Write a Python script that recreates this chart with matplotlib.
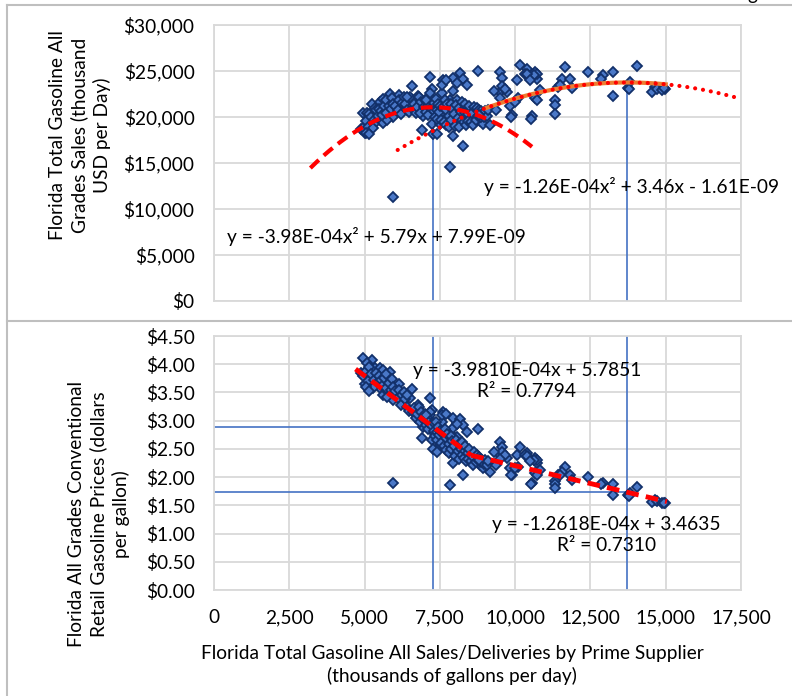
import numpy as np
import matplotlib.pyplot as plt
from matplotlib.lines import Line2D

plt.rcParams['font.family'] = ['Lato', 'DejaVu Sans']

# monthly observations: sales (thousand gal/day) and price ($/gal)
sales = [4960, 5250, 5080, 5350, 5510, 5620, 5840, 5010, 5180, 5410, 6140, 6570, 5510, 5610,
         5780, 6070, 6510, 6780, 5940, 5740, 6280, 4870, 4950, 5050, 5120, 5150, 5220, 5300,
         5320, 5380, 5450, 5480, 5550, 5580, 5650, 5700, 5720, 5800, 5880, 5900, 5960, 6020,
         6100, 6150, 6200, 6240, 6320, 6350, 6400, 6420, 6460, 5280, 5060, 5160,
         7170, 7240, 7170, 6910, 6610, 7610, 7570, 6940, 7270, 7240, 7570, 7840, 7950, 8070,
         7170, 7570, 7950, 8170, 8770, 8270, 8400, 8070, 7770, 7270, 7500, 7950, 7950, 8270,
         7840, 8500, 8670, 8830, 8930, 9160,
         6650, 6700, 6750, 6820, 6850, 6880, 6980, 7000, 7050, 7080, 7100, 7120, 7200, 7300,
         7320, 7350, 7380, 7400, 7420, 7450, 7480, 7520, 7550, 7600, 7640, 7660, 7700, 7720,
         7750, 7800, 7820, 7860, 7880, 7900, 7980, 8000, 8020, 8100, 8120, 8150, 8200, 8220,
         8250, 8300, 8320, 8350, 8380, 8420, 8450, 8480, 8550, 8580, 8600, 8620, 8700, 8720,
         8750, 8800, 8850, 8880, 8950, 9000, 9050, 9100, 7050, 6900, 7400, 7720, 8060,
         9500, 9560, 9500, 9730, 9830, 9890, 10160, 10390, 10060, 10330, 10430, 10660, 10730,
         10560, 10660, 11650, 11560, 11420, 11820, 11890, 12420, 12920, 13250, 13250, 13750,
         13810, 14050, 14640, 14980, 10730, 10630, 10400, 10500, 10830, 10730, 10520, 10100,
         9990, 9860, 9560, 9660, 9500, 8800, 11320, 11320, 11320, 11490, 12850, 14540, 14710,
         14880, 14940, 13770, 9300, 9350, 5950]
price = [4.11, 4.07, 4.02, 3.93, 3.93, 3.90, 3.86, 3.65, 3.76, 3.77, 3.65, 3.56, 3.58, 3.45,
         3.51, 3.45, 3.40, 3.28, 3.37, 3.42, 3.33, 3.85, 3.80, 3.88, 3.70, 3.95, 3.83, 3.72,
         3.62, 3.85, 3.68, 3.80, 3.72, 3.62, 3.75, 3.58, 3.82, 3.66, 3.55, 3.74, 3.60, 3.52,
         3.40, 3.55, 3.28, 3.45, 3.50, 3.38, 3.25, 3.45, 3.18, 3.57, 3.60, 3.52,
         3.40, 3.19, 3.10, 3.13, 3.15, 3.15, 2.98, 2.89, 2.80, 2.66, 2.71, 2.78, 2.87, 2.96,
         3.15, 3.10, 3.05, 3.03, 2.85, 2.92, 2.80, 2.71, 2.66, 2.50, 2.57, 2.43, 2.25, 2.04,
         1.86, 2.43, 2.34, 2.21, 2.16, 2.09,
         3.22, 3.05, 3.12, 3.25, 2.98, 3.15, 3.02, 3.12, 2.92, 3.05, 2.85, 2.98, 2.92, 2.95,
         2.82, 2.72, 2.98, 2.80, 2.66, 2.88, 2.74, 2.82, 2.60, 2.78, 2.55, 2.85, 2.70, 2.48,
         2.76, 2.58, 2.42, 2.72, 2.50, 2.64, 2.55, 2.38, 2.66, 2.46, 2.58, 2.32, 2.50, 2.40,
         2.62, 2.34, 2.46, 2.56, 2.28, 2.42, 2.32, 2.50, 2.28, 2.38, 2.22, 2.45, 2.26, 2.40,
         2.30, 2.36, 2.26, 2.32, 2.24, 2.30, 2.22, 2.28, 3.10, 2.70, 2.45, 3.11, 2.94,
         2.62, 2.53, 2.39, 2.34, 2.16, 2.04, 2.53, 2.43, 2.39, 2.39, 2.36, 2.34, 2.25,
         1.90, 2.07, 2.18, 2.09, 2.04, 2.04, 1.95, 2.00, 1.90, 1.88, 1.68, 1.68,
         1.72, 1.82, 1.59, 1.54, 2.30, 2.31, 2.37, 2.29, 2.12, 2.04, 1.88, 2.18,
         2.17, 2.03, 2.44, 2.39, 2.32, 2.30, 1.93, 1.88, 1.80, 2.04, 1.88, 1.56, 1.57,
         1.54, 1.55, 1.67, 2.45, 2.22, 1.90]

# revenue (thousand USD/day) = gallons * price
revenue = [s * p for s, p in zip(sales, price)]

# trendline coefficients (from the chart labels)
quad1 = [-3.98e-4, 5.79, 7.99e-9]
quad2 = [-1.26e-4, 3.46, -1.61e-9]
lin1 = [-3.9810e-4, 5.7851]
lin2 = [-1.2618e-4, 3.4635]
quad1_range = [3200, 10560]
quad2_range = [6100, 17500]
orange_range = [9050, 15000]
lin1_range = [4700, 8540]
lin2_range = [8540, 15040]

red = '#FF0000'
blue_line = '#4472C4'
grid_c = '#D9D9D9'
fs = 13.8

fig = plt.figure(figsize=(7.92, 6.96), dpi=100)
W, H = 792, 696


def px_axes(x0, y0, x1, y1):
    return fig.add_axes([x0 / W, 1 - y1 / H, (x1 - x0) / W, (y1 - y0) / H])


def style(ax):
    ax.set_xlim(0, 17500)
    ax.set_xticks(np.arange(0, 17501, 2500))
    ax.grid(True, color=grid_c, lw=1.3)
    ax.set_axisbelow(True)
    for sp in ax.spines.values():
        sp.set_color(grid_c)
        sp.set_linewidth(1.3)
    ax.tick_params(length=0, labelsize=fs, pad=14)


ax1 = px_axes(214, 25, 741, 301)
ax2 = px_axes(214, 336, 741, 590)
style(ax1)
style(ax2)

mk = dict(marker='D', ms=4.6, mfc='#4A78C8', mec='#12306A', mew=1.3, ls='none', zorder=3)

# ---- top panel
ax1.set_ylim(0, 30000)
ax1.set_yticks(np.arange(0, 30001, 5000))
ax1.set_yticklabels(['${:,.0f}'.format(v) for v in np.arange(0, 30001, 5000)])
ax1.tick_params(axis='x', labelbottom=False)

xv1 = -quad1[1] / (2 * quad1[0])
xv2 = -quad2[1] / (2 * quad2[0])
ax1.plot([xv1, xv1], [0, np.polyval(quad1, xv1)], color=blue_line, lw=1.2, zorder=2)
ax1.plot([xv2, xv2], [0, np.polyval(quad2, xv2)], color=blue_line, lw=1.2, zorder=2)
ax1.plot(sales, revenue, **mk)

xx = np.linspace(orange_range[0], orange_range[1], 100)
ax1.plot(xx, np.polyval(quad2, xx), color='#ED7D31', lw=3, zorder=4)
xx = np.linspace(quad2_range[0], quad2_range[1], 200)
ax1.plot(xx, np.polyval(quad2, xx), color=red, lw=3, ls=(0, (0.01, 1.9)),
         dash_capstyle='round', zorder=5)
xx = np.linspace(quad1_range[0], quad1_range[1], 200)
ax1.plot(xx, np.polyval(quad1, xx), color=red, lw=3, ls=(0, (2.8, 1.6)), zorder=5)

ax1.text(8950, 12400, 'y = -1.26E-04x² + 3.46x - 1.61E-09', fontsize=fs,
         ha='left', va='center', zorder=6)
ax1.text(420, 6960, 'y = -3.98E-04x² + 5.79x + 7.99E-09', fontsize=fs,
         ha='left', va='center', zorder=6)

# ---- bottom panel
ax2.set_ylim(0, 4.5)
ax2.set_yticks(np.arange(0, 4.51, 0.5))
ax2.set_yticklabels(['${:.2f}'.format(v) for v in np.arange(0, 4.51, 0.5)])
ax2.set_xticklabels(['{:,.0f}'.format(v) for v in np.arange(0, 17501, 2500)])

ax2.axvline(xv1, color=blue_line, lw=1.2, zorder=2)
ax2.axvline(xv2, color=blue_line, lw=1.2, zorder=2)
ax2.plot([0, xv1], [np.polyval(lin1, xv1)] * 2, color=blue_line, lw=1.2, zorder=2)
ax2.plot([0, xv2], [np.polyval(lin2, xv2)] * 2, color=blue_line, lw=1.2, zorder=2)
ax2.plot(sales, price, **mk)
xx = np.array(lin1_range)
ax2.plot(xx, np.polyval(lin1, xx), color=red, lw=3.5, ls=(0, (2.6, 1.5)), zorder=5)
xx = np.array(lin2_range)
ax2.plot(xx, np.polyval(lin2, xx), color=red, lw=3.5, ls=(0, (2.6, 1.5)), zorder=5)

ax2.text(10390, 3.70, 'y = -3.9810E-04x + 5.7851\nR² = 0.7794', fontsize=fs,
         ha='center', va='center', multialignment='center', linespacing=1.3, zorder=6)
ax2.text(13030, 0.97, 'y = -1.2618E-04x + 3.4635\nR² = 0.7310', fontsize=fs,
         ha='center', va='center', multialignment='center', linespacing=1.3, zorder=6)

# ---- axis titles
fig.text(80 / W, 1 - 135 / H, 'Florida Total Gasoline All\nGrades Sales (thousand\nUSD per Day)',
         rotation=90, ha='center', va='center', multialignment='center',
         fontsize=fs, linespacing=1.3)
fig.text(99 / W, 1 - 514 / H,
         'Florida All Grades Conventional\nRetail Gasoline Prices (dollars\nper gallon)',
         rotation=90, ha='center', va='center', multialignment='center',
         fontsize=fs, linespacing=1.3)
fig.text(452 / W, 1 - 665 / H,
         'Florida Total Gasoline All Sales/Deliveries by Prime Supplier\n(thousands of gallons per day)',
         ha='center', va='center', multialignment='center', fontsize=fs, linespacing=1.3)

# frame lines around the panels
frame_c = '#BFBFBF'
for xs, ys in [([7, W], [5, 5]), ([7, 7], [5, H]), ([7, W], [321, 321])]:
    fig.add_artist(Line2D([x / W for x in xs], [1 - y / H for y in ys],
                          color=frame_c, lw=1.5, transform=fig.transFigure))
fig.text(747 / W, 1.0, 'g', fontsize=fs, ha='left', va='baseline')

fig.savefig('out.png', dpi=100)
